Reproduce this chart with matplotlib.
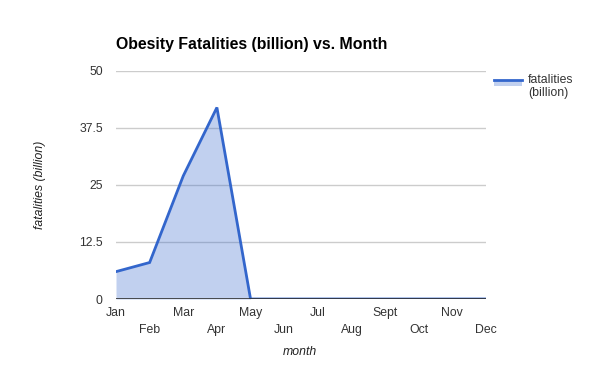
import matplotlib
matplotlib.use("Agg")
import matplotlib.pyplot as plt
from matplotlib.patches import Rectangle
from matplotlib.lines import Line2D

months = ["Jan", "Feb", "Mar", "Apr", "May", "Jun", "Jul", "Aug", "Sept", "Oct", "Nov", "Dec"]
fatalities = [6, 8, 27, 42, 0, 0, 0, 0, 0, 0, 0, 0]
yticks = [0, 12.5, 25, 37.5, 50]
ytick_labels = ["0", "12.5", "25", "37.5", "50"]

plt.rcParams['font.family'] = ['Liberation Sans', 'DejaVu Sans']

fig = plt.figure(figsize=(6, 3.71), dpi=100)
ax = fig.add_axes([116/600, 1-299/371, 370/600, 228/371])

x = list(range(len(months)))
ax.fill_between(x, fatalities, 0, color="#3366cc", alpha=0.3, linewidth=0)
ax.plot(x, fatalities, color="#3366cc", linewidth=2, solid_joinstyle="miter", zorder=3)

ax.set_xlim(0, len(months)-1)
ax.set_ylim(0, 50)
ax.set_yticks(yticks)
ax.set_yticklabels(ytick_labels)
ax.grid(axis="y", color="#cccccc", linewidth=1)
ax.axhline(0, color="#333333", linewidth=1.2, zorder=4)
ax.set_axisbelow(True)
for s in ax.spines.values():
    s.set_visible(False)
ax.tick_params(axis="both", length=0, labelsize=8.8, colors="#333333")
ax.tick_params(axis="y", pad=9.5)
ax.set_xticks(x)
ax.set_xticklabels([m if i % 2 == 0 else "\n" + m for i, m in enumerate(months)], linespacing=1.5)
ax.tick_params(axis="x", pad=6)

fig.text(116/600, 1-45/371, "Obesity Fatalities (billion) vs. Month", fontsize=11.4,
         fontweight="bold", color="#000000", va="center", ha="left")
fig.text(300/600, 1-352/371, "month", fontsize=8.8, style="italic", color="#222222",
         ha="center", va="center")
fig.text(40/600, 1-185/371, "fatalities (billion)", fontsize=8.8, style="italic", color="#222222",
         ha="center", va="center", rotation=90)

# legend
fig.patches.append(Rectangle((494/600, 1-86/371), 28/600, 6/371, transform=fig.transFigure,
                             facecolor="#3366cc", alpha=0.3, edgecolor="none"))
fig.lines.append(Line2D([494/600, 522/600], [1-80/371, 1-80/371], transform=fig.transFigure,
                        color="#3366cc", linewidth=2))
fig.text(528/600, 1-80/371, "fatalities", fontsize=8.8, color="#333333", va="center", ha="left")
fig.text(528/600, 1-93/371, "(billion)", fontsize=8.8, color="#333333", va="center", ha="left")

fig.savefig("out.png", dpi=100)
